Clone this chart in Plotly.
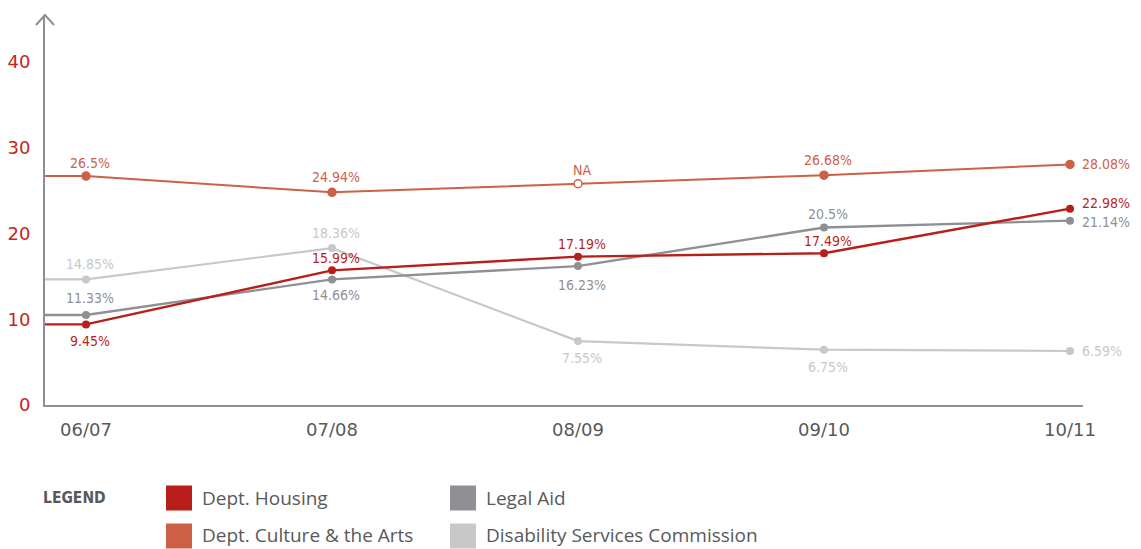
import plotly.graph_objects as go

# ---------------- data ----------------
years = ["06/07", "07/08", "08/09", "09/10", "10/11"]

series_names = ["Dept. Housing", "Dept. Culture & the Arts", "Legal Aid", "Disability Services Commission"]

housing_vals = [9.4, 15.7, 17.3, 17.7, 22.9]
housing_labels = ["9.45%", "15.99%", "17.19%", "17.49%", "22.98%"]

culture_vals = [26.7, 24.8, 25.8, 26.8, 28.05]
culture_labels = ["26.5%", "24.94%", "NA", "26.68%", "28.08%"]
culture_missing = [False, False, True, False, False]

legal_vals = [10.5, 14.65, 16.2, 20.7, 21.5]
legal_labels = ["11.33%", "14.66%", "16.23%", "20.5%", "21.14%"]

disability_vals = [14.65, 18.3, 7.45, 6.45, 6.3]
disability_labels = ["14.85%", "18.36%", "7.55%", "6.75%", "6.59%"]

y_ticks = [0, 10, 20, 30, 40]

# ---------------- styling ----------------
W, H = 1141, 549
ML, MR, MT, MB = 45, 58, 15, 144
PLOT_W = W - ML - MR
PLOT_H = H - MT - MB
STEP_PX = 246.0
FIRST_PX = 86.0
X_MIN = -(FIRST_PX - ML) / STEP_PX
X_MAX = X_MIN + PLOT_W / STEP_PX
Y_MAX = PLOT_H / 8.575

AXIS_COL = "#8e8f93"
TICK_RED = "#c8231d"
TXT_GREY = "#58595b"

colors = {
    "Dept. Housing": "#b91f1a",
    "Dept. Culture & the Arts": "#cd6147",
    "Legal Aid": "#8f9094",
    "Disability Services Commission": "#c7c8ca",
}
widths = {
    "Dept. Housing": 2.4,
    "Dept. Culture & the Arts": 2.0,
    "Legal Aid": 2.4,
    "Disability Services Commission": 2.2,
}
# label placement per point: mode ('C' centred above/below, 'R' right) and vertical pixel offset
placement = {
    "Dept. Housing": [("C", 17), ("C", -12), ("C", -13), ("C", -12), ("R", -6)],
    "Dept. Culture & the Arts": [("C", -13), ("C", -15), ("C", -14), ("C", -15), ("R", 0)],
    "Legal Aid": [("C", -17), ("C", 16), ("C", 19), ("C", -14), ("R", 1)],
    "Disability Services Commission": [("C", -15), ("C", -15), ("C", 17), ("C", 17), ("R", 0)],
}

data = {
    "Dept. Housing": (housing_vals, housing_labels, [False] * 5),
    "Dept. Culture & the Arts": (culture_vals, culture_labels, culture_missing),
    "Legal Aid": (legal_vals, legal_labels, [False] * 5),
    "Disability Services Commission": (disability_vals, disability_labels, [False] * 5),
}

LABEL_FONT = "DejaVu Sans Condensed, sans-serif"

fig = go.Figure()
annotations = []
draw_order = ["Disability Services Commission", "Legal Aid", "Dept. Culture & the Arts", "Dept. Housing"]
xi = list(range(len(years)))
for name in draw_order:
    vals, labels, missing = data[name]
    c = colors[name]
    # lead-in segment from the axis to the first point
    fig.add_trace(go.Scatter(
        x=[X_MIN] + xi, y=[vals[0]] + vals, mode="lines",
        line=dict(color=c, width=widths[name]), hoverinfo="skip", showlegend=False,
    ))
    fig.add_trace(go.Scatter(
        x=xi, y=vals, mode="markers", name=name, showlegend=False,
        marker=dict(size=8, color=["white" if m else c for m in missing],
                    line=dict(color=c, width=1.5 if any(missing) else 0)),
    ))
    for i, (v, lab) in enumerate(zip(vals, labels)):
        mode, dy = placement[name][i]
        if mode == "R":
            annotations.append(dict(x=i, y=v, xref="x", yref="y", text=lab, showarrow=False,
                                    xanchor="left", yanchor="middle", xshift=10, yshift=-dy,
                                    font=dict(family=LABEL_FONT, size=14, color=c)))
        else:
            annotations.append(dict(x=i, y=v, xref="x", yref="y", text=lab, showarrow=False,
                                    xanchor="center", yanchor="middle", xshift=4, yshift=-dy,
                                    font=dict(family=LABEL_FONT, size=14, color=c)))


def px_x(p):
    return (p - ML) / PLOT_W


def px_y(p):
    return (H - MB - p) / PLOT_H


shapes = []
# arrow head on the y axis
shapes.append(dict(type="path", xref="paper", yref="paper", xsizemode="pixel", ysizemode="pixel",
                   xanchor=0, yanchor=1, path="M -9,-10 L 0,0 L 9,-10",
                   line=dict(color=AXIS_COL, width=2)))

# custom legend
annotations.append(dict(x=px_x(41), y=px_y(498), xref="paper", yref="paper", text="<b>LEGEND</b>",
                        showarrow=False, xanchor="left", yanchor="middle",
                        font=dict(family="DejaVu Sans Condensed, sans-serif", size=15.5, color=TXT_GREY)))
leg_cols = [166, 450]
leg_rows = [498, 536]
legend_layout = [
    ("Dept. Housing", 0, 0),
    ("Dept. Culture & the Arts", 0, 1),
    ("Legal Aid", 1, 0),
    ("Disability Services Commission", 1, 1),
]
for name, col, row in legend_layout:
    x0 = leg_cols[col]
    yc = leg_rows[row]
    shapes.append(dict(type="rect", xref="paper", yref="paper",
                       x0=px_x(x0), x1=px_x(x0 + 26), y0=px_y(yc + 12.5), y1=px_y(yc - 12.5),
                       fillcolor=colors[name], line=dict(width=0)))
    annotations.append(dict(x=px_x(x0 + 35), y=px_y(yc - 1 if row else yc), xref="paper", yref="paper",
                            text=name, showarrow=False, xanchor="left", yanchor="middle", borderpad=0,
                            font=dict(family="Open Sans, sans-serif", size=19, color=TXT_GREY)))

fig.update_layout(
    width=W, height=H,
    margin=dict(l=ML, r=MR, t=MT, b=MB),
    paper_bgcolor="white", plot_bgcolor="white",
    showlegend=False,
    shapes=shapes, annotations=annotations,
    xaxis=dict(range=[X_MIN, X_MAX], tickmode="array", tickvals=xi, ticktext=years,
               showgrid=False, zeroline=False, showline=True, linecolor=AXIS_COL, linewidth=2,
               ticks="", ticklabelstandoff=7, automargin=False,
               tickfont=dict(family="DejaVu Sans, sans-serif", size=18, color=TXT_GREY)),
    yaxis=dict(range=[0, Y_MAX], tickmode="array", tickvals=y_ticks,
               showgrid=False, zeroline=False, showline=True, linecolor=AXIS_COL, linewidth=2,
               ticks="", ticklabelstandoff=9, automargin=False,
               tickfont=dict(family="DejaVu Sans, sans-serif", size=18, color=TICK_RED)),
)

fig.write_html("out.html")
